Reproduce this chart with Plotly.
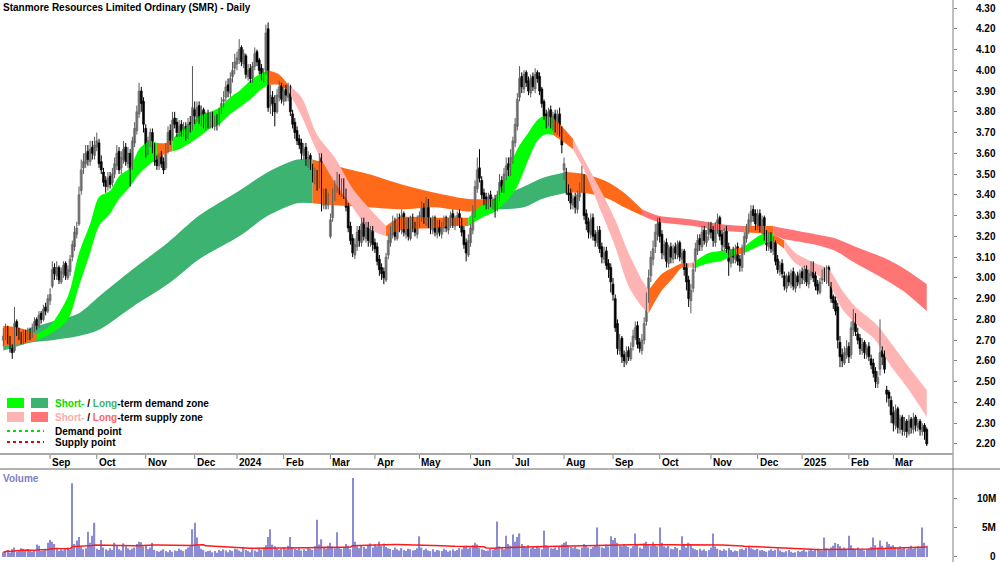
import pandas as pd
import plotly.graph_objects as go

TITLE = "Stanmore Resources Limited Ordinary (SMR) - Daily"
FIRST_DAY = "2023-08-03"
LAST_DAY = "2025-03-24"
HOLIDAYS = ["2023-12-25", "2023-12-26", "2024-01-01", "2024-01-26", "2024-03-29",
            "2024-04-01", "2024-04-25", "2024-06-10", "2024-12-25", "2024-12-26",
            "2025-01-01", "2025-01-27"]

# ---- daily OHLC (one line per month) ----
OPEN = [
    2.70, 2.72, 2.76, 2.71, 2.67, 2.65, 2.79, 2.75, 2.73, 2.70, 2.74, 2.71, 2.75, 2.72, 2.75, 2.80, 2.77, 2.83, 2.80, 2.86, 2.84,
    2.89, 2.96, 3.05, 3.01, 3.05, 2.98, 3.02, 3.07, 3.00, 3.03, 3.10, 3.15, 3.21, 3.26, 3.42, 3.53, 3.55, 3.61, 3.56, 3.63, 3.59,
    3.63, 3.65, 3.56, 3.51, 3.47, 3.44, 3.49, 3.46, 3.50, 3.54, 3.61, 3.53, 3.57, 3.63, 3.55, 3.60, 3.53, 3.65, 3.71, 3.79, 3.90, 3.85,
    3.72, 3.61, 3.65, 3.70, 3.63, 3.57, 3.54, 3.59, 3.56, 3.53, 3.62, 3.71, 3.67, 3.77, 3.75, 3.70, 3.74, 3.70, 3.73, 3.69, 3.75, 3.73,
    3.81, 3.77, 3.83, 3.75, 3.81, 3.73, 3.79, 3.74, 3.79, 3.73, 3.77, 3.75, 3.81, 3.85, 3.87, 3.93, 3.89, 3.97, 4.01,
    4.03, 4.05, 4.11, 4.03, 4.07, 3.97, 4.01, 3.96, 4.02, 4.09, 4.05, 4.01, 3.96, 4.00, 4.20, 3.83, 3.87, 3.84, 3.80, 3.87, 3.93,
    3.85, 3.91, 3.87, 3.92, 3.79, 3.75, 3.71, 3.67, 3.65, 3.59, 3.63, 3.55, 3.59, 3.53, 3.47, 3.51, 3.45, 3.58, 3.35, 3.41, 3.35,
    3.20, 3.29, 3.39, 3.43, 3.49, 3.41, 3.47, 3.41, 3.35, 3.25, 3.19, 3.11, 3.15, 3.23, 3.17, 3.27, 3.19, 3.25, 3.17, 3.23,
    3.17, 3.15, 3.09, 3.05, 3.03, 2.99, 3.11, 3.17, 3.21, 3.27, 3.19, 3.29, 3.23, 3.31, 3.21, 3.27, 3.19, 3.29, 3.25, 3.21,
    3.27, 3.29, 3.35, 3.27, 3.37, 3.27, 3.23, 3.29, 3.21, 3.27, 3.21, 3.24, 3.29, 3.23, 3.26, 3.31, 3.25, 3.27, 3.31, 3.27, 3.23, 3.17, 3.11,
    3.17, 3.23, 3.31, 3.43, 3.53, 3.47, 3.41, 3.39, 3.35, 3.40, 3.35, 3.38, 3.34, 3.39, 3.47, 3.43, 3.49, 3.55, 3.51,
    3.57, 3.65, 3.73, 3.87, 3.97, 3.91, 3.99, 3.95, 3.89, 3.97, 3.91, 3.99, 3.97, 3.91, 3.85, 3.79, 3.75, 3.81, 3.73, 3.79, 3.71, 3.79, 3.71,
    3.52, 3.51, 3.43, 3.41, 3.35, 3.39, 3.33, 3.39, 3.43, 3.48, 3.31, 3.27, 3.21, 3.29, 3.21, 3.17, 3.23, 3.15, 3.09, 3.13, 3.07, 3.05,
    2.97, 2.90, 2.78, 2.65, 2.71, 2.63, 2.59, 2.65, 2.61, 2.67, 2.71, 2.77, 2.69, 2.65, 2.70, 2.79, 2.91, 3.01, 3.09, 3.15, 3.21,
    3.27, 3.21, 3.11, 3.17, 3.07, 3.15, 3.09, 3.15, 3.11, 3.17, 3.09, 3.13, 3.05, 2.99, 2.89, 2.95, 3.05, 3.13, 3.19, 3.15, 3.23, 3.17, 3.21,
    3.25, 3.23, 3.17, 3.23, 3.29, 3.21, 3.15, 3.23, 3.15, 3.07, 3.13, 3.09, 3.15, 3.09, 3.05, 3.13, 3.19, 3.23, 3.27, 3.33, 3.31,
    3.25, 3.31, 3.23, 3.29, 3.21, 3.15, 3.21, 3.13, 3.17, 3.09, 3.03, 3.07, 3.01, 2.95, 3.01, 2.97, 3.03, 2.95, 3.01, 2.97,
    3.03, 2.99, 3.05, 2.97, 3.01, 3.07, 3.01, 2.97, 2.93, 2.99, 3.03, 2.99, 3.05, 2.97, 2.91, 2.89, 2.86, 2.69, 2.63, 2.59, 2.63,
    2.67, 2.63, 2.75, 2.81, 2.73, 2.71, 2.65, 2.69, 2.63, 2.67, 2.61, 2.59, 2.55, 2.49, 2.56, 2.65, 2.63, 2.46, 2.45, 2.41,
    2.35, 2.29, 2.37, 2.27, 2.33, 2.26, 2.31, 2.25, 2.32, 2.27, 2.33, 2.28, 2.31, 2.26, 2.29, 2.27,
]
HIGH = [
    2.76, 2.78, 2.77, 2.72, 2.68, 2.86, 2.80, 2.76, 2.74, 2.75, 2.75, 2.76, 2.76, 2.78, 2.81, 2.81, 2.84, 2.84, 2.87, 2.88, 2.92,
    2.95, 3.08, 3.07, 3.08, 3.06, 3.05, 3.08, 3.08, 3.06, 3.11, 3.18, 3.25, 3.27, 3.44, 3.57, 3.60, 3.64, 3.64, 3.66, 3.66, 3.68,
    3.70, 3.67, 3.59, 3.53, 3.49, 3.51, 3.51, 3.53, 3.58, 3.64, 3.63, 3.61, 3.66, 3.65, 3.63, 3.62, 3.68, 3.75, 3.83, 3.94, 3.92, 3.87,
    3.74, 3.68, 3.72, 3.72, 3.65, 3.59, 3.60, 3.61, 3.58, 3.65, 3.73, 3.74, 3.80, 3.80, 3.77, 3.76, 3.76, 3.75, 3.75, 3.77, 3.78, 4.02,
    3.85, 3.85, 3.85, 3.83, 3.82, 3.80, 3.81, 3.80, 3.80, 3.78, 3.79, 3.82, 3.87, 3.90, 3.95, 3.96, 3.99, 4.04, 4.08,
    4.09, 4.15, 4.12, 4.10, 4.08, 4.03, 4.03, 4.04, 4.11, 4.10, 4.06, 4.03, 4.01, 4.22, 4.23, 3.93, 3.90, 3.88, 3.91, 3.95, 3.94,
    3.93, 3.93, 3.94, 3.93, 3.81, 3.77, 3.73, 3.69, 3.67, 3.65, 3.65, 3.61, 3.60, 3.55, 3.53, 3.52, 3.60, 3.60, 3.43, 3.43, 3.41,
    3.31, 3.43, 3.47, 3.51, 3.50, 3.48, 3.48, 3.43, 3.36, 3.27, 3.21, 3.19, 3.25, 3.25, 3.29, 3.29, 3.27, 3.27, 3.25, 3.25,
    3.19, 3.17, 3.11, 3.07, 3.05, 3.12, 3.21, 3.25, 3.30, 3.29, 3.31, 3.31, 3.33, 3.32, 3.29, 3.29, 3.30, 3.31, 3.27, 3.30,
    3.32, 3.37, 3.36, 3.39, 3.38, 3.29, 3.30, 3.30, 3.28, 3.28, 3.27, 3.30, 3.30, 3.29, 3.32, 3.33, 3.30, 3.32, 3.33, 3.29, 3.25, 3.19, 3.21,
    3.26, 3.35, 3.47, 3.58, 3.62, 3.49, 3.43, 3.41, 3.41, 3.42, 3.39, 3.40, 3.42, 3.50, 3.49, 3.53, 3.58, 3.58, 3.62,
    3.68, 3.77, 3.89, 4.02, 3.99, 4.00, 4.00, 3.97, 3.98, 3.99, 4.01, 4.00, 3.99, 3.92, 3.86, 3.81, 3.82, 3.83, 3.80, 3.81, 3.81, 3.82, 3.73,
    3.58, 3.53, 3.45, 3.43, 3.40, 3.41, 3.42, 3.46, 3.54, 3.50, 3.33, 3.29, 3.31, 3.31, 3.23, 3.25, 3.25, 3.17, 3.15, 3.15, 3.09, 3.07,
    3.00, 2.92, 2.80, 2.73, 2.72, 2.65, 2.67, 2.67, 2.69, 2.75, 2.79, 2.79, 2.71, 2.73, 2.81, 2.93, 3.04, 3.13, 3.18, 3.26, 3.29,
    3.29, 3.23, 3.18, 3.19, 3.16, 3.17, 3.16, 3.17, 3.18, 3.18, 3.14, 3.14, 3.07, 3.01, 2.97, 3.07, 3.17, 3.21, 3.21, 3.25, 3.25, 3.23, 3.27,
    3.27, 3.25, 3.27, 3.31, 3.30, 3.23, 3.24, 3.25, 3.17, 3.14, 3.15, 3.16, 3.17, 3.11, 3.16, 3.22, 3.26, 3.31, 3.35, 3.35, 3.33,
    3.33, 3.33, 3.30, 3.30, 3.23, 3.22, 3.22, 3.20, 3.18, 3.11, 3.08, 3.09, 3.03, 3.02, 3.03, 3.04, 3.05, 3.02, 3.03, 3.04,
    3.05, 3.06, 3.06, 3.04, 3.08, 3.08, 3.03, 2.99, 3.00, 3.04, 3.05, 3.06, 3.06, 2.98, 2.92, 2.91, 2.88, 2.72, 2.66, 2.67, 2.70,
    2.69, 2.79, 2.85, 2.83, 2.76, 2.73, 2.71, 2.70, 2.68, 2.69, 2.63, 2.61, 2.57, 2.55, 2.80, 2.67, 2.65, 2.48, 2.46, 2.43,
    2.38, 2.39, 2.38, 2.34, 2.34, 2.33, 2.32, 2.34, 2.33, 2.35, 2.34, 2.32, 2.32, 2.30, 2.30, 2.28,
]
LOW = [
    2.67, 2.70, 2.68, 2.64, 2.61, 2.64, 2.72, 2.70, 2.68, 2.68, 2.69, 2.70, 2.70, 2.71, 2.74, 2.75, 2.76, 2.78, 2.79, 2.82, 2.83,
    2.87, 2.95, 2.99, 2.99, 2.97, 2.97, 3.00, 2.99, 2.99, 3.01, 3.08, 3.13, 3.19, 3.25, 3.40, 3.50, 3.53, 3.54, 3.54, 3.57, 3.57,
    3.61, 3.53, 3.50, 3.44, 3.41, 3.42, 3.43, 3.44, 3.48, 3.52, 3.50, 3.50, 3.55, 3.54, 3.53, 3.44, 3.52, 3.63, 3.69, 3.77, 3.80, 3.70,
    3.58, 3.59, 3.63, 3.60, 3.54, 3.52, 3.52, 3.53, 3.50, 3.52, 3.60, 3.64, 3.66, 3.72, 3.68, 3.68, 3.68, 3.68, 3.66, 3.67, 3.70, 3.71,
    3.74, 3.75, 3.74, 3.73, 3.72, 3.71, 3.72, 3.72, 3.72, 3.71, 3.71, 3.73, 3.79, 3.82, 3.85, 3.87, 3.87, 3.94, 3.98,
    4.00, 4.03, 4.02, 4.01, 3.96, 3.95, 3.94, 3.94, 4.00, 4.02, 3.98, 3.95, 3.94, 3.98, 3.80, 3.79, 3.78, 3.73, 3.79, 3.85, 3.84,
    3.83, 3.85, 3.85, 3.78, 3.72, 3.67, 3.64, 3.62, 3.57, 3.57, 3.54, 3.53, 3.52, 3.46, 3.45, 3.42, 3.43, 3.32, 3.33, 3.33, 3.33,
    3.19, 3.27, 3.37, 3.41, 3.40, 3.39, 3.38, 3.32, 3.22, 3.16, 3.10, 3.09, 3.13, 3.15, 3.15, 3.18, 3.17, 3.15, 3.15, 3.13,
    3.12, 3.06, 3.01, 2.99, 2.97, 2.98, 3.09, 3.15, 3.19, 3.18, 3.18, 3.22, 3.21, 3.20, 3.19, 3.18, 3.18, 3.22, 3.20, 3.19,
    3.24, 3.27, 3.26, 3.25, 3.24, 3.21, 3.21, 3.20, 3.19, 3.20, 3.19, 3.22, 3.22, 3.21, 3.24, 3.24, 3.23, 3.25, 3.24, 3.20, 3.14, 3.08, 3.10,
    3.15, 3.21, 3.29, 3.41, 3.46, 3.38, 3.35, 3.33, 3.33, 3.34, 3.33, 3.29, 3.32, 3.37, 3.41, 3.41, 3.47, 3.49, 3.49,
    3.55, 3.63, 3.71, 3.85, 3.89, 3.89, 3.92, 3.88, 3.87, 3.90, 3.89, 3.94, 3.88, 3.82, 3.76, 3.72, 3.73, 3.72, 3.71, 3.70, 3.69, 3.68, 3.60,
    3.47, 3.40, 3.37, 3.33, 3.33, 3.31, 3.31, 3.37, 3.41, 3.28, 3.23, 3.19, 3.19, 3.18, 3.15, 3.15, 3.12, 3.07, 3.07, 3.04, 3.00, 2.93,
    2.89, 2.74, 2.63, 2.63, 2.59, 2.57, 2.58, 2.60, 2.60, 2.65, 2.70, 2.66, 2.64, 2.63, 2.68, 2.77, 2.88, 2.98, 3.06, 3.12, 3.18,
    3.17, 3.09, 3.09, 3.05, 3.05, 3.07, 3.07, 3.09, 3.09, 3.08, 3.07, 3.01, 2.94, 2.86, 2.83, 2.93, 3.03, 3.11, 3.13, 3.13, 3.16, 3.15, 3.18,
    3.19, 3.15, 3.15, 3.21, 3.18, 3.13, 3.13, 3.12, 3.01, 3.05, 3.07, 3.07, 3.06, 3.03, 3.03, 3.11, 3.17, 3.21, 3.25, 3.27, 3.23,
    3.23, 3.22, 3.21, 3.18, 3.13, 3.13, 3.12, 3.11, 3.06, 3.02, 3.01, 3.00, 2.94, 2.93, 2.96, 2.95, 2.94, 2.93, 2.96, 2.95,
    2.97, 2.97, 2.96, 2.95, 2.99, 2.98, 2.94, 2.92, 2.92, 2.97, 2.98, 2.97, 2.96, 2.88, 2.85, 2.82, 2.66, 2.57, 2.57, 2.58, 2.61,
    2.59, 2.61, 2.72, 2.72, 2.68, 2.63, 2.63, 2.61, 2.61, 2.60, 2.56, 2.52, 2.47, 2.47, 2.53, 2.58, 2.54, 2.40, 2.38, 2.30,
    2.26, 2.27, 2.25, 2.25, 2.24, 2.24, 2.23, 2.24, 2.25, 2.25, 2.26, 2.26, 2.24, 2.24, 2.22, 2.19,
]
CLOSE = [
    2.72, 2.75, 2.70, 2.66, 2.64, 2.78, 2.74, 2.72, 2.70, 2.73, 2.71, 2.74, 2.72, 2.76, 2.79, 2.77, 2.82, 2.80, 2.85, 2.84, 2.90,
    2.92, 3.04, 3.02, 3.05, 2.99, 3.03, 3.06, 3.01, 3.04, 3.09, 3.16, 3.22, 3.24, 3.40, 3.52, 3.56, 3.60, 3.57, 3.62, 3.60, 3.64,
    3.66, 3.55, 3.52, 3.46, 3.44, 3.48, 3.45, 3.50, 3.55, 3.60, 3.52, 3.58, 3.62, 3.56, 3.60, 3.52, 3.66, 3.72, 3.80, 3.90, 3.84, 3.74,
    3.62, 3.66, 3.70, 3.62, 3.56, 3.54, 3.58, 3.55, 3.52, 3.62, 3.70, 3.66, 3.76, 3.74, 3.70, 3.73, 3.70, 3.72, 3.69, 3.74, 3.72, 3.82,
    3.78, 3.82, 3.76, 3.80, 3.74, 3.78, 3.75, 3.78, 3.74, 3.76, 3.74, 3.80, 3.84, 3.86, 3.92, 3.90, 3.96, 4.00, 4.04,
    4.06, 4.10, 4.04, 4.08, 3.98, 4.00, 3.96, 4.02, 4.08, 4.04, 4.00, 3.97, 3.99, 4.18, 3.82, 3.88, 3.84, 3.80, 3.88, 3.92, 3.86,
    3.90, 3.88, 3.92, 3.80, 3.74, 3.70, 3.66, 3.64, 3.60, 3.62, 3.56, 3.58, 3.54, 3.48, 3.50, 3.44, 3.56, 3.36, 3.40, 3.36, 3.38,
    3.28, 3.40, 3.44, 3.48, 3.42, 3.46, 3.40, 3.34, 3.24, 3.18, 3.12, 3.16, 3.22, 3.18, 3.26, 3.20, 3.24, 3.18, 3.22, 3.16,
    3.14, 3.08, 3.04, 3.02, 3.00, 3.10, 3.18, 3.22, 3.26, 3.20, 3.28, 3.24, 3.30, 3.22, 3.26, 3.20, 3.28, 3.24, 3.22, 3.28,
    3.30, 3.34, 3.28, 3.36, 3.26, 3.24, 3.28, 3.22, 3.26, 3.22, 3.25, 3.28, 3.24, 3.27, 3.30, 3.26, 3.28, 3.30, 3.26, 3.22, 3.16, 3.12, 3.18,
    3.24, 3.32, 3.44, 3.52, 3.48, 3.40, 3.38, 3.36, 3.39, 3.36, 3.37, 3.35, 3.40, 3.46, 3.44, 3.50, 3.54, 3.52, 3.58,
    3.66, 3.74, 3.86, 3.96, 3.92, 3.98, 3.94, 3.90, 3.96, 3.92, 3.98, 3.96, 3.90, 3.84, 3.78, 3.76, 3.80, 3.74, 3.78, 3.72, 3.78, 3.70, 3.64,
    3.55, 3.42, 3.40, 3.36, 3.38, 3.34, 3.40, 3.44, 3.50, 3.30, 3.26, 3.22, 3.28, 3.20, 3.18, 3.22, 3.14, 3.10, 3.12, 3.06, 3.04, 2.98,
    2.92, 2.76, 2.66, 2.70, 2.62, 2.60, 2.64, 2.62, 2.66, 2.72, 2.76, 2.68, 2.66, 2.70, 2.78, 2.90, 3.00, 3.10, 3.14, 3.22, 3.26,
    3.20, 3.12, 3.16, 3.08, 3.14, 3.10, 3.14, 3.12, 3.16, 3.10, 3.12, 3.04, 2.98, 2.90, 2.94, 3.04, 3.14, 3.18, 3.16, 3.22, 3.18, 3.20, 3.24,
    3.22, 3.18, 3.24, 3.28, 3.20, 3.16, 3.22, 3.14, 3.08, 3.12, 3.10, 3.14, 3.08, 3.06, 3.14, 3.20, 3.24, 3.28, 3.32, 3.30, 3.26,
    3.30, 3.24, 3.28, 3.20, 3.16, 3.20, 3.14, 3.18, 3.08, 3.04, 3.06, 3.02, 2.96, 3.00, 2.98, 3.02, 2.96, 3.00, 2.98, 3.02,
    3.00, 3.04, 2.98, 3.02, 3.06, 3.00, 2.96, 2.94, 2.98, 3.02, 3.00, 3.04, 2.98, 2.90, 2.88, 2.84, 2.70, 2.62, 2.60, 2.64, 2.66,
    2.62, 2.76, 2.80, 2.74, 2.70, 2.66, 2.68, 2.64, 2.66, 2.62, 2.58, 2.54, 2.50, 2.52, 2.64, 2.62, 2.56, 2.44, 2.42, 2.34,
    2.30, 2.36, 2.28, 2.32, 2.27, 2.30, 2.26, 2.31, 2.28, 2.32, 2.29, 2.30, 2.27, 2.28, 2.26, 2.20,
]
# daily volume, millions of shares
VOLUME_M = [
    0.8, 1.0, 1.2, 0.7, 1.3, 1.6, 0.9, 1.2, 1.5, 1.4, 1.1, 1.3, 1.0, 0.9, 1.2, 2.1, 1.9, 1.0, 1.1, 1.4, 2.4,
    2.9, 2.6, 2.2, 1.5, 1.0, 1.3, 1.1, 1.4, 1.6, 1.2, 12.5, 2.2, 2.8, 3.4, 1.8, 1.3, 1.5, 4.3, 2.4, 3.6, 5.8,
    1.4, 1.2, 2.9, 1.6, 1.3, 1.1, 1.5, 1.2, 2.4, 1.9, 1.3, 1.1, 2.3, 1.8, 1.5, 1.2, 1.4, 1.6, 2.2, 2.6, 2.5, 1.8,
    1.9, 1.3, 1.6, 2.4, 1.2, 1.0, 0.9, 1.1, 1.3, 1.0, 0.8, 1.2, 0.9, 1.1, 1.0, 1.4, 1.2, 1.0, 1.3, 1.6, 1.8, 4.7,
    5.8, 3.3, 1.9, 1.4, 1.2, 0.9, 1.0, 1.1, 0.8, 1.0, 0.7, 1.2, 1.0, 1.3, 1.1, 0.8, 1.2, 1.0, 1.4,
    1.3, 1.1, 0.9, 1.6, 1.2, 1.0, 0.8, 1.3, 1.1, 0.9, 1.4, 1.2, 1.6, 2.0, 3.4, 4.7, 2.1, 1.8, 1.5, 1.2, 1.4,
    1.6, 1.3, 1.9, 3.4, 1.7, 1.4, 1.2, 1.5, 1.1, 1.3, 1.0, 1.6, 1.4, 1.2, 1.8, 6.3, 2.1, 3.0, 1.6, 1.4, 1.9,
    2.4, 1.8, 1.5, 4.2, 1.7, 1.4, 1.6, 2.2, 1.9, 1.3, 13.4, 2.6, 1.8, 1.5, 2.0, 1.7, 1.4, 1.9, 2.3, 1.6,
    2.1, 1.8, 2.6, 1.9, 2.3, 1.7, 1.5, 1.4, 1.2, 1.6, 1.3, 1.1, 1.5, 1.2, 1.0, 1.4, 1.3, 1.1, 1.2, 1.5,
    3.5, 1.6, 1.2, 1.4, 1.1, 1.0, 1.3, 0.9, 1.2, 1.1, 1.0, 1.4, 1.2, 0.9, 1.1, 1.3, 1.0, 1.2, 1.5, 1.3, 1.7, 1.9, 1.4,
    1.6, 2.0, 2.4, 2.1, 1.5, 1.3, 1.2, 1.0, 1.1, 1.4, 1.2, 1.5, 6.0, 1.8, 1.6, 1.3, 3.6, 2.2, 1.9,
    3.8, 2.6, 3.4, 4.0, 2.2, 1.8, 1.6, 2.0, 1.5, 1.7, 1.4, 1.9, 1.6, 1.3, 4.5, 2.0, 1.7, 1.5, 1.4, 1.6, 1.2, 1.8, 2.1,
    2.4, 2.6, 2.0, 1.7, 1.5, 1.8, 1.4, 1.3, 1.6, 2.2, 1.9, 1.6, 1.4, 1.7, 2.0, 5.0, 1.8, 1.6, 1.5, 2.1, 1.8, 3.5,
    2.9, 3.2, 2.4, 2.0, 1.8, 2.2, 1.9, 1.7, 1.5, 1.8, 4.0, 2.1, 1.6, 1.4, 2.3, 2.6, 2.2, 1.9, 2.5, 2.0, 1.8,
    5.0, 2.4, 1.8, 1.6, 1.9, 1.4, 1.3, 1.7, 1.5, 1.2, 3.5, 2.2, 1.6, 2.4, 2.0, 1.5, 1.3, 1.2, 1.4, 1.1, 1.3, 1.0, 1.2,
    1.6, 4.0, 1.8, 1.4, 1.2, 1.0, 1.3, 1.1, 1.5, 1.2, 0.9, 1.1, 1.0, 1.3, 1.4, 1.2, 1.6, 1.9, 1.5, 1.3, 1.2,
    1.4, 1.1, 1.2, 1.0, 0.9, 1.1, 1.3, 1.0, 1.2, 1.5, 1.1, 0.9, 0.8, 1.0, 1.2, 0.9, 0.7, 0.8, 1.0, 0.9,
    1.0, 1.2, 0.9, 1.1, 1.3, 1.0, 1.2, 1.4, 1.1, 1.0, 3.3, 1.5, 1.2, 1.6, 1.9, 2.4, 2.2, 1.8, 1.4, 1.6, 1.3,
    3.6, 2.0, 1.5, 1.3, 1.6, 1.2, 1.4, 1.1, 1.3, 1.5, 1.7, 3.3, 2.0, 1.6, 2.8, 1.9, 1.5, 2.6, 2.2, 1.8,
    2.0, 1.7, 1.5, 1.8, 1.4, 1.6, 1.3, 1.5, 1.9, 1.4, 1.6, 1.8, 1.5, 5.0, 2.4, 1.9,
]

# ---- short-term zone (trading-day index, lower, upper edge) ----
SHORT_DAY = [0, 7, 15, 21, 29, 34, 39, 43, 48, 52, 57, 61, 66, 69, 73, 76, 79, 84, 88, 93,
             97, 102, 106, 111, 115, 119, 124, 128, 134, 141, 149, 157, 164, 172, 178, 194, 201, 209, 215, 221,
             227, 231, 236, 240, 243, 247, 251, 256, 261, 269, 275, 281, 287, 290, 296, 301, 305, 308, 311, 317,
             322, 329, 333, 341, 346, 351, 356, 365, 371, 377, 383, 392, 398, 407, 415]
SHORT_LO = [2.67, 2.68, 2.70, 2.73, 2.80, 2.96, 3.12, 3.25, 3.31, 3.38, 3.44, 3.50, 3.55, 3.57, 3.60, 3.61, 3.62, 3.65, 3.68, 3.72,
            3.74, 3.79, 3.82, 3.86, 3.90, 3.93, 3.93, 3.90, 3.78, 3.61, 3.46, 3.34, 3.24, 3.20, 3.23, 3.24, 3.25, 3.25, 3.29, 3.32,
            3.38, 3.44, 3.57, 3.66, 3.69, 3.69, 3.66, 3.62, 3.52, 3.31, 3.15, 2.96, 2.86, 2.83, 2.94, 3.00, 3.05, 3.05, 3.05, 3.07,
            3.08, 3.11, 3.12, 3.16, 3.18, 3.14, 3.07, 3.02, 2.97, 2.85, 2.78, 2.70, 2.59, 2.46, 2.33]
SHORT_HI = [2.77, 2.76, 2.73, 2.77, 2.91, 3.12, 3.26, 3.39, 3.42, 3.49, 3.53, 3.62, 3.66, 3.65, 3.65, 3.67, 3.70, 3.74, 3.78, 3.80,
            3.82, 3.87, 3.90, 3.95, 3.98, 4.00, 3.98, 3.93, 3.87, 3.69, 3.58, 3.43, 3.34, 3.25, 3.29, 3.29, 3.29, 3.29, 3.35, 3.38,
            3.52, 3.62, 3.70, 3.76, 3.78, 3.77, 3.73, 3.67, 3.57, 3.41, 3.28, 3.12, 2.99, 2.94, 3.02, 3.05, 3.07, 3.07, 3.08, 3.12,
            3.13, 3.14, 3.15, 3.21, 3.21, 3.18, 3.12, 3.07, 3.04, 2.94, 2.86, 2.78, 2.70, 2.57, 2.46]
# zone of each interval between consecutive points: D demand, S supply, N neutral
SHORT_ZONE = ["N", "N", "D", "D", "D", "D", "D", "D", "D", "D", "D", "D", "D", "N", "N",
              "D", "D", "D", "D", "D", "D", "D", "D", "D", "D", "N", "N",
              "S", "S", "S", "S", "S", "S", "N", "N", "N", "N",
              "D", "D", "D", "D", "D", "D", "D", "D", "N", "N",
              "S", "S", "S", "S", "S", "S", "N", "N", "N", "N", "S",
              "D", "D", "D", "N", "D", "D", "N",
              "S", "S", "S", "S", "S", "S", "S", "S", "S"]

# ---- long-term zone ----
LONG_DAY = [0, 13, 22, 34, 43, 58, 74, 88, 106, 119, 132, 139, 149, 164, 179, 194, 209, 221, 234, 242,
            253, 261, 272, 279, 287, 294, 310, 322, 333, 346, 350, 365, 374, 383, 395, 404, 415]
LONG_LO = [2.65, 2.69, 2.70, 2.72, 2.75, 2.86, 2.97, 3.09, 3.20, 3.30, 3.36, 3.36, 3.35, 3.34, 3.33, 3.34, 3.32, 3.33, 3.34, 3.38,
           3.41, 3.41, 3.38, 3.34, 3.30, 3.27, 3.25, 3.23, 3.22, 3.21, 3.19, 3.16, 3.13, 3.07, 3.00, 2.94, 2.84]
LONG_HI = [2.71, 2.76, 2.79, 2.83, 2.91, 3.04, 3.17, 3.30, 3.42, 3.51, 3.57, 3.57, 3.54, 3.50, 3.45, 3.41, 3.38, 3.38, 3.44, 3.48,
           3.51, 3.50, 3.46, 3.41, 3.33, 3.30, 3.28, 3.26, 3.25, 3.25, 3.24, 3.21, 3.19, 3.15, 3.10, 3.05, 2.97]
LONG_ZONE = ["D", "D", "D", "D", "D", "D", "D", "D", "D", "D", "D",
             "N", "N", "N", "N", "N", "N", "D", "D", "D", "N", "N", "N", "N",
             "S", "S", "S", "S", "N", "S", "S", "S", "S", "S", "S", "S"]

PRICE_TICKS = [2.20, 2.30, 2.40, 2.50, 2.60, 2.70, 2.80, 2.90, 3.00, 3.10, 3.20,
               3.30, 3.40, 3.50, 3.60, 3.70, 3.80, 3.90, 4.00, 4.10, 4.20, 4.30]
VOLUME_TICKS = [0, 5, 10]
VOLUME_TICK_TEXT = ["0", "5M", "10M"]

# ---------------------------------------------------------------------------
dates = pd.bdate_range(FIRST_DAY, LAST_DAY, freq="C", holidays=HOLIDAYS)
n = len(dates)
for name, arr in [("OPEN", OPEN), ("HIGH", HIGH), ("LOW", LOW), ("CLOSE", CLOSE), ("VOLUME_M", VOLUME_M)]:
    if len(arr) != n:
        raise ValueError(f"{name} has {len(arr)} values, expected {n}")
x = list(range(n))

FONT = "Liberation Sans, Arial, sans-serif"
W, H, PLOT_W = 1000, 562, 953
UP_FILL, UP_EDGE, DOWN_COL = "#a6a6a6", "#5a5a5a", "#000000"


def pyp(p):  # pixel row -> paper y
    return 1 - p / H


def pxp(p):  # pixel column -> paper x
    return p / PLOT_W


SHORT_COL = {"D": "#00ff00", "N": "#ff6a1a", "S": "#ffb4b4"}
LONG_COL = {"D": "#3cb371", "N": "#ff6a1a", "S": "#ff7575"}

fig = go.Figure()


def add_zone(days, lo, hi, zones, colors):
    a = 0
    for k in range(1, len(zones) + 1):
        if k == len(zones) or zones[k] != zones[a]:
            xs = days[a:k + 1]
            fig.add_trace(go.Scatter(x=xs, y=hi[a:k + 1], mode="lines",
                                     line=dict(width=0, shape="spline", smoothing=0.8),
                                     hoverinfo="skip", xaxis="x", yaxis="y"))
            fig.add_trace(go.Scatter(x=xs, y=lo[a:k + 1], mode="lines",
                                     line=dict(width=0, shape="spline", smoothing=0.8),
                                     fill="tonexty", fillcolor=colors[zones[a]],
                                     hoverinfo="skip", xaxis="x", yaxis="y"))
            a = k


add_zone(LONG_DAY, LONG_LO, LONG_HI, LONG_ZONE, LONG_COL)
add_zone(SHORT_DAY, SHORT_LO, SHORT_HI, SHORT_ZONE, SHORT_COL)

# ---- candles: wicks (scatter segments) + bodies (bars) ----
up = [c >= o for o, c in zip(OPEN, CLOSE)]
for is_up, col in [(True, UP_EDGE), (False, DOWN_COL)]:
    wx, wy = [], []
    for i in range(n):
        if up[i] == is_up:
            wx += [i, i, None]
            wy += [LOW[i], HIGH[i], None]
    fig.add_trace(go.Scatter(x=wx, y=wy, mode="lines", line=dict(color=col, width=1),
                             hoverinfo="skip", xaxis="x", yaxis="y"))
body_base = [min(o, c) for o, c in zip(OPEN, CLOSE)]
body_len = [max(abs(c - o), 0.006) for o, c in zip(OPEN, CLOSE)]
fig.add_trace(go.Bar(x=x, y=body_len, base=body_base, width=0.9,
                     marker=dict(color=[UP_FILL if u else DOWN_COL for u in up],
                                 line=dict(color=[UP_EDGE if u else DOWN_COL for u in up], width=0.6)),
                     hoverinfo="skip", xaxis="x", yaxis="y"))

vol_ma = pd.Series(VOLUME_M).rolling(60, min_periods=1).mean()
fig.add_trace(go.Bar(x=x, y=VOLUME_M, marker=dict(color="#8c8cd4", line=dict(width=0)),
                     width=0.6, xaxis="x2", yaxis="y2", hoverinfo="skip"))
fig.add_trace(go.Scatter(x=x, y=vol_ma, mode="lines", line=dict(color="#ff1a1a", width=1.5),
                         xaxis="x2", yaxis="y2", hoverinfo="skip"))

XR = [-1.5, 426.8]
price_top = 4.30 + 8 / 207.6
price_bot = 4.30 - 445 / 207.6
fig.update_layout(
    width=W, height=H, margin=dict(l=0, r=W - PLOT_W, t=0, b=0),
    paper_bgcolor="white", plot_bgcolor="white", showlegend=False, barmode="overlay",
    xaxis=dict(domain=[0, 1], range=XR, anchor="y", showticklabels=False, showgrid=False,
               zeroline=False, showline=False, ticks=""),
    yaxis=dict(domain=[pyp(453), 1], range=[price_bot, price_top], side="right", anchor="x",
               showgrid=False, zeroline=False, showline=False, tickvals=PRICE_TICKS,
               showticklabels=False, ticks="outside", ticklen=3, tickcolor="#808080"),
    xaxis2=dict(domain=[0, 1], range=XR, anchor="y2", showticklabels=False, showgrid=False,
                zeroline=False, showline=False, ticks=""),
    yaxis2=dict(domain=[0, pyp(469)], range=[-0.85, 14.92], side="right", anchor="x2",
                showgrid=False, zeroline=False, showline=False, tickvals=VOLUME_TICKS,
                showticklabels=False, ticks="outside", ticklen=3, tickcolor="#808080"),
)

shapes = []
annotations = []
# axis frame lines
shapes.append(dict(type="line", xref="paper", yref="paper", x0=1, x1=1, y0=0, y1=1,
                   line=dict(color="#808080", width=1)))
shapes.append(dict(type="line", xref="paper", yref="paper", x0=0, x1=1, y0=pyp(454), y1=pyp(454),
                   line=dict(color="#a8a8a8", width=2)))
shapes.append(dict(type="line", xref="paper", yref="paper", x0=0, x1=W / PLOT_W, y0=pyp(469), y1=pyp(469),
                   line=dict(color="#666666", width=1)))

# month ticks / labels
for k in range(1, n):
    if dates[k].month != dates[k - 1].month:
        label = str(dates[k].year) if dates[k].month == 1 else dates[k].strftime("%b")
        shapes.append(dict(type="line", xref="x", yref="paper", x0=k, x1=k, y0=pyp(455), y1=pyp(459),
                           line=dict(color="#808080", width=1)))
        annotations.append(dict(x=k, xref="x", y=pyp(462), yref="paper", xanchor="left", yanchor="middle",
                                xshift=0, text=f"<b>{label}</b>", showarrow=False,
                                font=dict(family=FONT, size=10, color="#000000")))

# right-side value labels
for v in PRICE_TICKS:
    annotations.append(dict(x=998 / PLOT_W, xref="paper", y=v, yref="y", xanchor="right", yanchor="middle",
                            text=f"<b>{v:.2f}</b>", showarrow=False,
                            font=dict(family=FONT, size=10, color="#000000")))
for v, t in zip(VOLUME_TICKS, VOLUME_TICK_TEXT):
    annotations.append(dict(x=998 / PLOT_W, xref="paper", y=v, yref="y2", xanchor="right", yanchor="middle",
                            text=f"<b>{t}</b>", showarrow=False,
                            font=dict(family=FONT, size=10, color="#000000")))

# title and volume caption
annotations.append(dict(x=pxp(1), xref="paper", y=pyp(8), yref="paper", xanchor="left", yanchor="middle",
                        text=f"<b>{TITLE}</b>", showarrow=False,
                        font=dict(family=FONT, size=10, color="#000000")))
annotations.append(dict(x=pxp(1), xref="paper", y=pyp(478), yref="paper", xanchor="left", yanchor="middle",
                        text="<b>Volume</b>", showarrow=False,
                        font=dict(family=FONT, size=10, color="#8080c4")))

# legend
for (x0, x1, y0, y1, c) in [(7, 24, 398, 408, SHORT_COL["D"]), (31, 48, 398, 408, LONG_COL["D"]),
                            (7, 24, 412, 422, SHORT_COL["S"]), (31, 48, 412, 422, LONG_COL["S"])]:
    shapes.append(dict(type="rect", xref="paper", yref="paper", x0=pxp(x0), x1=pxp(x1),
                       y0=pyp(y1), y1=pyp(y0), fillcolor=c, line=dict(width=0)))
for (yy, c) in [(431, "#00dd00"), (442, "#ee0000")]:
    shapes.append(dict(type="line", xref="paper", yref="paper", x0=pxp(7), x1=pxp(44),
                       y0=pyp(yy), y1=pyp(yy), line=dict(color=c, width=2, dash="dot")))
legend_rows = [
    (403, f"<b><span style='color:#00dd00'>Short-</span> / <span style='color:{LONG_COL['D']}'>Long</span>-term demand zone</b>"),
    (417, f"<b><span style='color:#ffaaaa'>Short-</span> / <span style='color:#ff6666'>Long</span>-term supply zone</b>"),
    (431, "<b>Demand point</b>"),
    (442, "<b>Supply point</b>"),
]
for yy, t in legend_rows:
    annotations.append(dict(x=pxp(53), xref="paper", y=pyp(yy), yref="paper", xanchor="left", yanchor="middle",
                            text=t, showarrow=False, font=dict(family=FONT, size=10, color="#000000")))

fig.update_layout(shapes=shapes, annotations=annotations)
fig.write_html("out.html")
